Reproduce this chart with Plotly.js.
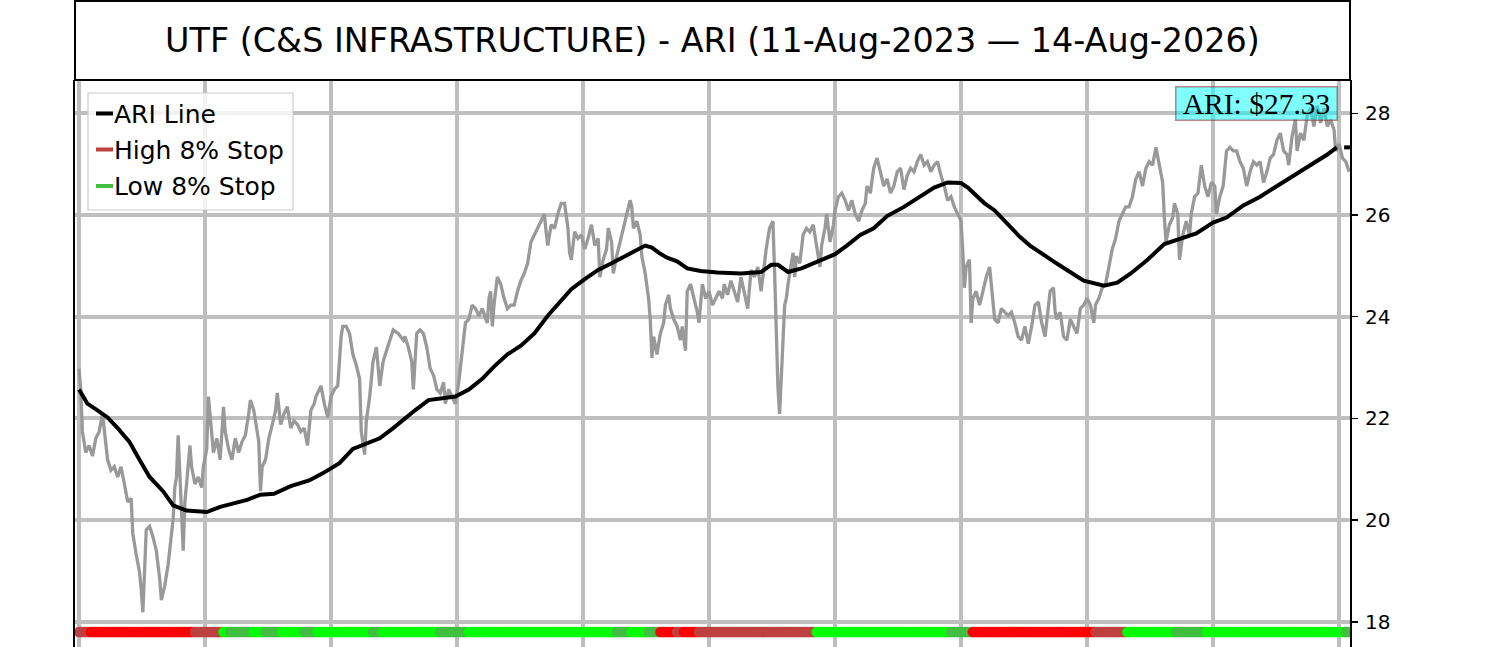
<!DOCTYPE html>
<html><head><meta charset="utf-8">
<script src="https://cdn.plot.ly/plotly-3.0.1.min.js"></script>
<style>html,body{margin:0;padding:0;background:#fff;overflow:hidden}#chart{width:1500px;height:647px}</style>
</head><body><div id="chart"></div>
<script>
const titleText = "UTF (C&amp;S INFRASTRUCTURE) - ARI (11-Aug-2023 — 14-Aug-2026)";

// daily close (trading-day index, price)
const pricePoints = [
[0,22.98],[1,22.57],[2,21.74],[4,21.33],[6,21.47],[8,21.26],[10,21.61],[12,21.74],[14,22.09],[15,21.74],[17,21.19],[19,20.98],[21,21.05],[23,20.85],[25,21.05],[27,20.71],[29,20.36],[31,20.43],[32,19.74],[34,19.33],[36,18.98],[37,18.64],[38,18.19],[39,18.98],[40,19.81],[42,19.88],[44,19.67],[46,19.40],[48,18.85],[49,18.43],[51,18.71],[53,19.12],[55,19.67],[56,20.02],[57,20.64],[58,20.85],[59,21.67],[60,20.71],[61,20.16],[62,19.40],[63,20.36],[64,20.71],[66,21.47],[67,21.05],[69,20.71],[71,20.85],[73,20.64],[74,21.05],[76,21.40],[77,22.43],[78,22.02],[80,21.33],[82,21.61],[84,21.19],[86,22.23],[87,21.74],[89,21.40],[91,21.19],[93,21.61],[95,21.33],[97,21.54],[99,21.67],[101,22.09],[102,22.36],[104,22.16],[106,21.74],[107,21.54],[108,20.57],[109,21.05],[111,21.19],[113,21.61],[115,21.88],[117,22.16],[118,22.50],[120,21.88],[122,22.09],[124,22.23],[126,21.81],[128,21.95],[130,21.88],[132,21.74],[134,21.81],[136,21.47],[138,22.16],[140,22.29],[141,22.43],[144,22.64],[146,22.29],[148,22.02],[150,22.43],[152,22.57],[154,22.64],[156,23.61],[157,23.81],[159,23.81],[161,23.67],[163,23.26],[165,23.05],[167,22.78],[168,21.74],[170,21.29],[171,21.95],[173,22.43],[175,23.12],[177,23.40],[179,22.64],[181,23.12],[183,23.33],[185,23.54],[187,23.74],[190,23.67],[193,23.54],
[194,23.61],[196,23.40],[198,23.12],[199,22.57],[200,23.12],[201,23.67],[203,23.74],[205,23.67],[207,23.40],[209,22.98],[211,22.85],[213,22.57],[215,22.50],[217,22.71],[218,22.29],[220,22.57],[222,22.43],[224,22.29],[226,22.71],[228,23.26],[229,23.54],[230,23.88],[232,23.95],[234,24.23],[236,24.16],[238,24.02],[240,24.16],[242,23.95],[243,23.88],[244,24.36],[245,24.50],[246,23.81],[247,24.23],[249,24.78],[251,24.64],[253,24.36],[255,24.16],[257,24.23],[259,24.23],[261,24.50],[263,24.71],[265,24.85],[267,25.05],[269,25.47],[271,25.61],[273,25.74],[275,25.88],[277,26.02],[278,25.67],[279,25.40],[281,25.81],[283,25.74],[285,26.02],[287,26.23],[289,26.23],[291,25.74],[292,25.26],[293,25.12],[295,25.67],[297,25.54],[299,25.61],[301,25.33],[303,25.54],[305,25.81],[307,25.40],[309,25.54],[310,24.78],[312,25.12],[314,25.33],[315,25.74],[317,25.47],[318,24.85],[320,25.19],[322,25.47],[324,25.74],[326,26.02],[328,26.29],[329,26.16],[330,25.74],[331,25.81],[332,25.88],[334,25.61],[335,25.19],[337,24.85],[339,24.36],[340,23.95],[341,23.19],[342,23.61],[344,23.26],[346,23.67],[348,23.88],[349,24.23],[351,24.43],[352,24.16],[354,23.95],[356,23.81],[358,23.54],[359,23.81],[361,23.33],[362,24.50],[364,24.64],[366,24.36],[368,24.09],[369,23.88],[371,24.64],[373,24.36],[375,24.50],[377,24.23],[379,24.36],[381,24.50],[383,24.36],
[384,24.64],[386,24.43],[388,24.71],[390,24.50],[392,24.29],[394,24.78],[396,24.50],[398,24.16],[400,24.92],[402,24.78],[404,24.98],[406,24.50],[408,25.05],[409,25.33],[411,25.74],[413,25.88],[414,24.90],[415,23.40],[416,22.60],[417,22.09],[418,22.90],[419,23.67],[420,24.23],[421,24.36],[422,24.64],[424,25.05],[425,25.26],[426,24.78],[427,25.19],[429,25.05],[431,25.61],[433,25.74],[435,25.67],[437,25.81],[439,25.40],[441,24.98],[442,25.40],[444,25.74],[445,26.02],[447,25.47],[449,25.81],[450,26.09],[452,26.36],[454,26.43],[456,26.29],[458,26.09],[460,26.29],[462,26.02],[464,25.88],[466,26.09],[468,26.23],[469,26.57],[471,26.43],[473,26.92],[475,27.12],[477,26.85],[479,26.57],[481,26.71],[483,26.43],[485,26.57],[487,26.85],[489,26.92],[491,26.50],[493,26.78],[495,26.92],[497,26.85],[499,27.05],[501,27.19],[503,26.98],[505,27.05],[507,26.85],[509,26.98],[511,27.05],[513,26.78],[515,26.57],[517,26.29],[519,26.36],[521,26.16],[523,26.02],[525,25.88],[526,25.30],[527,24.57],[528,24.98],[530,25.12],[531,23.88],[532,24.36],[534,24.50],[536,24.23],[538,24.50],[540,24.78],[542,24.98],[544,24.36],[545,23.95],[547,23.88],[549,24.16],[551,24.09],[553,24.02],[555,24.09],[557,23.88],[559,23.61],[561,23.54],[563,23.81],[565,23.47],[567,23.81],[569,24.23],[571,24.29],[573,23.88],[575,23.61],
[576,23.95],[578,24.50],[580,24.57],[581,24.09],[582,23.95],[584,24.09],[586,23.61],[588,23.54],[590,23.95],[592,23.81],[594,23.67],[596,24.16],[598,24.23],[600,24.36],[602,24.23],[604,23.88],[605,24.23],[607,24.36],[609,24.57],[611,24.64],[613,24.98],[615,25.33],[617,25.54],[619,25.88],[621,26.02],[623,26.16],[625,26.16],[627,26.36],[629,26.71],[631,26.85],[633,26.57],[635,26.92],[637,27.05],[639,26.98],[641,27.33],[643,26.98],[645,26.64],[646,25.95],[647,25.47],[649,25.81],[651,25.95],[652,26.23],[654,26.02],[655,25.12],[657,25.61],[659,25.88],[661,25.61],[662,26.02],[664,26.36],[666,26.43],[668,26.98],[670,26.57],[672,26.36],[674,26.64],[676,26.57],[677,26.02],[679,26.36],[681,26.57],[683,27.26],[685,27.33],[687,27.26],[689,27.26],[691,27.05],[693,26.92],[695,26.57],[697,26.85],[699,27.05],[701,26.98],[703,27.05],[705,26.64],[707,26.85],[709,27.12],[711,27.19],[713,27.47],[715,27.61],[717,27.26],[719,27.19],[720,26.98],[722,27.54],[724,27.88],[725,27.26],[727,27.61],[729,27.47],[731,27.95],[733,28.10],[735,27.74],[737,28.15],[739,27.81],[741,28.10],[743,27.74],[745,27.88],[747,27.67],[748,27.26],[750,27.40],[752,27.12],[754,27.05],[756,26.85]
];

// ARI line (trading-day index, value)
const ariPoints = [
[0,22.57],[5,22.29],[11,22.16],[17,22.02],[23,21.81],[30,21.54],[36,21.19],[42,20.85],[50,20.57],[56,20.29],[64,20.19],[76,20.16],[84,20.26],[92,20.33],[100,20.40],[108,20.50],[116,20.52],[126,20.67],[137,20.78],[145,20.92],[155,21.12],[163,21.40],[171,21.50],[179,21.61],[187,21.81],[192,21.95],[200,22.16],[208,22.36],[216,22.40],[224,22.43],[232,22.57],[240,22.78],[247,23.02],[255,23.26],[263,23.43],[271,23.67],[279,24.02],[287,24.33],[293,24.54],[301,24.74],[309,24.92],[317,25.05],[325,25.19],[331,25.30],[337,25.40],[341,25.36],[345,25.26],[350,25.16],[356,25.09],[362,24.95],[370,24.90],[380,24.87],[388,24.85],[394,24.85],[406,24.88],[412,25.02],[416,25.02],[422,24.88],[430,24.95],[440,25.09],[450,25.23],[457,25.40],[465,25.61],[473,25.74],[481,25.98],[491,26.16],[501,26.36],[509,26.54],[517,26.64],[525,26.63],[529,26.54],[535,26.36],[539,26.23],[545,26.09],[553,25.81],[560,25.57],[566,25.40],[572,25.26],[580,25.09],[588,24.92],[598,24.71],[610,24.61],[618,24.67],[626,24.85],[636,25.12],[646,25.43],[656,25.54],[665,25.64],[675,25.85],[683,25.95],[693,26.19],[703,26.36],[715,26.61],[725,26.81],[735,27.02],[743,27.19],[748.6,27.33]
];
const ariLastMark = [[753,27.33],[757,27.33]];
const ariLastLabel = "ARI: $27.33";

// stop-state band (run starts in trading-day index and state of each run)
const bandLevel = 17.8;
const bandRunStart = [0,7,69,86,90,104,111,121,134,142,175,181,215,232,320,329,339,346,356,360,369,439,519,532,605,624,653,671,754];
const bandRunState = ['high','highAlt','high','lowAlt','low','lowAlt','low','lowAlt','low','lowAlt','low','lowAlt','low','lowAlt','low','lowAlt','low','highAlt','high','highAlt','high','lowAlt','low','highAlt','high','lowAlt','low','lowAlt','low'];
const bandLastDay = 756;
const stateColor = {high:'#bf4040', highAlt:'#ff0000', low:'#40bf40', lowAlt:'#00ff00'};

const yTicks = [18,20,22,24,26,28];
const xGridDays = [0,75,150,225,300,375,450,525,600,675,750];
const legendLabels = ['ARI Line','High 8% Stop','Low 8% Stop'];
const legendColors = ['#000000','#bf4040','#40bf40'];

// ---- build ----
const bandX = [], bandC = [];
for (let k = 0; k < bandRunStart.length; k++) {
  const s = bandRunStart[k];
  const e = (k + 1 < bandRunStart.length) ? bandRunStart[k + 1] : bandLastDay + 1;
  for (let d = s; d < e; d++) { bandX.push(d); bandC.push(stateColor[bandRunState[k]]); }
}

const W = 1500, H = 647, ML = 75, MR = 150, MT = 80, MB = 0;
const PW = W - ML - MR, PH = H - MT - MB;
const px = v => (v - ML) / PW;
const py = v => (H - MB - v) / PH;

const traces = [
  {x: bandX, y: bandX.map(() => bandLevel), type: 'scatter', mode: 'markers',
   marker: {size: 10.5, color: bandC, line: {width: 0}}, name: 'Stops', showlegend: false, hoverinfo: 'skip'},
  {x: pricePoints.map(p => p[0]), y: pricePoints.map(p => p[1]), type: 'scatter', mode: 'lines',
   line: {color: '#999999', width: 3.3}, name: 'UTF', showlegend: false},
  {x: ariPoints.map(p => p[0]), y: ariPoints.map(p => p[1]), type: 'scatter', mode: 'lines',
   line: {color: '#000000', width: 4}, name: legendLabels[0], showlegend: false},
  {x: ariLastMark.map(p => p[0]), y: ariLastMark.map(p => p[1]), type: 'scatter', mode: 'lines',
   line: {color: '#000000', width: 4}, name: 'ARI last', showlegend: false}
];

const shapes = [
  {type: 'rect', xref: 'paper', yref: 'paper', x0: 0, x1: 1, y0: 1, y1: py(1), line: {color: '#000', width: 2}, fillcolor: 'rgba(0,0,0,0)'},
  {type: 'rect', xref: 'paper', yref: 'paper', x0: px(88), x1: px(293), y0: py(210), y1: py(93),
   line: {color: 'rgb(204,204,204)', width: 1.2}, fillcolor: 'rgba(255,255,255,0.8)'}
];
const annotations = [];
const rowY = [113.5, 149.5, 186];
legendLabels.forEach((lab, k) => {
  shapes.push({type: 'line', xref: 'paper', yref: 'paper', x0: px(96), x1: px(113), y0: py(rowY[k]), y1: py(rowY[k]),
    line: {color: legendColors[k], width: 4}});
  annotations.push({xref: 'paper', yref: 'paper', x: px(112), y: py(rowY[k] + 0.5), xanchor: 'left', yanchor: 'middle',
    text: lab, showarrow: false, font: {family: 'DejaVu Sans', size: 25, color: '#000'}});
});
annotations.push({xref: 'paper', yref: 'paper', x: px(1338), y: py(86), xanchor: 'right', yanchor: 'top',
  text: ariLastLabel, showarrow: false, width: 158, height: 30, borderpad: 1, align: 'center',
  font: {family: 'Liberation Serif', size: 29.5, color: '#000'},
  bgcolor: 'rgba(0,255,255,0.5)', bordercolor: 'rgba(150,40,40,0.55)', borderwidth: 1.5});

const layout = {
  width: W, height: H, margin: {l: ML, r: MR, t: MT, b: MB, pad: 0},
  paper_bgcolor: '#fff', plot_bgcolor: '#fff', showlegend: false, hovermode: false,
  title: {text: titleText, x: 0.5, xref: 'paper', xanchor: 'center', y: 1 - 40.5 / H, yref: 'container', yanchor: 'middle',
    font: {family: 'DejaVu Sans', size: 33.4, color: '#000'}},
  xaxis: {range: [-2.4, 756.5], tickmode: 'array', tickvals: xGridDays, showticklabels: false, ticks: '',
    showgrid: true, gridcolor: 'rgb(191,191,191)', gridwidth: 4, zeroline: false, showline: false, fixedrange: true},
  yaxis: {side: 'right', range: [17.506, 28.655], tickmode: 'array', tickvals: yTicks, ticktext: yTicks.map(String),
    ticks: 'outside', ticklen: 6, tickwidth: 1.5, tickcolor: '#000', ticklabelstandoff: 3,
    tickfont: {family: 'DejaVu Sans', size: 20, color: '#000'},
    showgrid: true, gridcolor: 'rgb(191,191,191)', gridwidth: 4, zeroline: false,
    showline: true, linecolor: '#000', linewidth: 2, mirror: true, fixedrange: true},
  shapes: shapes, annotations: annotations
};
Plotly.newPlot('chart', traces, layout, {staticPlot: true, displayModeBar: false});
</script></body></html>
